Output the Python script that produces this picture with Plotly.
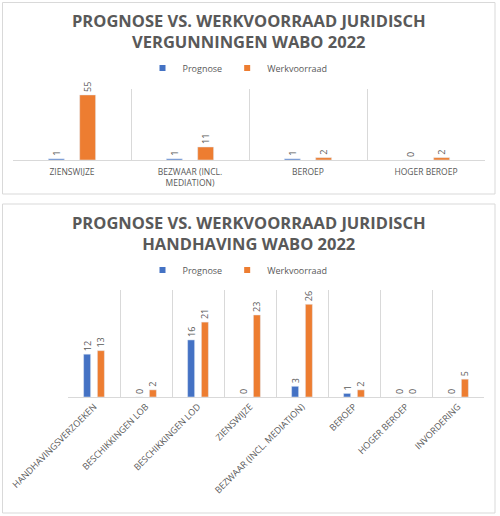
import plotly.graph_objects as go

W, H = 500, 516

# Chart 1 data
cats1 = ["ZIENSWIJZE", "BEZWAAR (INCL.<br>MEDIATION)", "BEROEP", "HOGER BEROEP"]
prog1 = [1, 1, 1, 0]
werk1 = [55, 11, 2, 2]

# Chart 2 data
cats2 = ["HANDHAVINGSVERZOEKEN", "BESCHIKKINGEN LOB", "BESCHIKKINGEN LOD", "ZIENSWIJZE",
         "BEZWAAR (INCL. MEDIATION)", "BEROEP", "HOGER BEROEP", "INVORDERING"]
prog2 = [12, 0, 16, 0, 3, 1, 0, 0]
werk2 = [13, 2, 21, 23, 26, 2, 0, 5]

series_names = ["Prognose", "Werkvoorraad"]

title1 = "PROGNOSE VS. WERKVOORRAAD JURIDISCH<br>VERGUNNINGEN WABO 2022"
title2 = "PROGNOSE VS. WERKVOORRAAD JURIDISCH<br>HANDHAVING WABO 2022"

BLUE = "#4472C4"
ORANGE = "#ED7D31"
GREY = "#595959"
GRID = "#D9D9D9"
FONT = "Open Sans"

def px_x(v):
    return v / W

def px_y(v):
    return 1 - v / H

fig = go.Figure()

def add_bars(x, p, w, xa, ya, leg):
    for name, vals, col in ((series_names[0], p, BLUE), (series_names[1], w, ORANGE)):
        fig.add_trace(go.Bar(
            x=x, y=vals, name=name, marker_color=col, xaxis=xa, yaxis=ya,
            showlegend=False,
            text=vals, texttemplate="%{y}", textposition="outside", textangle=-90,
            constraintext="none", cliponaxis=False,
            textfont=dict(size=9, color=GREY, family=FONT),
        ))
        # legend entry with a small square swatch
        fig.add_trace(go.Scatter(
            x=[None], y=[None], name=name, mode="markers", xaxis=xa, yaxis=ya,
            marker=dict(symbol="square", size=6, color=col), legend=leg, showlegend=True,
        ))

add_bars(cats1, prog1, werk1, "x", "y", "legend")
add_bars(cats2, prog2, werk2, "x2", "y2", "legend2")

axis_common = dict(showgrid=True, gridcolor=GRID, gridwidth=1, tickson="boundaries",
                   ticks="", showline=True, linecolor=GRID, linewidth=1, automargin=False,
                   fixedrange=True)

legend_common = dict(orientation="h", x=0.475, xanchor="center", yanchor="middle",
                     font=dict(size=9, color=GREY, family=FONT), bgcolor="rgba(0,0,0,0)",
                     itemwidth=30, tracegroupgap=0)

fig.update_layout(
    width=W, height=H, autosize=False,
    margin=dict(l=0, r=0, t=0, b=0, autoexpand=False),
    paper_bgcolor="white", plot_bgcolor="white",
    bargap=0.47, bargroupgap=0.49,
    font=dict(family=FONT, color=GREY),
    xaxis=dict(domain=[px_x(13), px_x(485)], anchor="y", tickangle=0, ticklabelstandoff=4,
               tickfont=dict(size=8.5, color=GREY, family=FONT), **axis_common),
    yaxis=dict(domain=[px_y(160), px_y(89)], anchor="x", range=[0, 60], visible=False,
               showgrid=False, zeroline=False, automargin=False),
    xaxis2=dict(domain=[px_x(68), px_x(484)], anchor="y2", tickangle=-45,
                tickfont=dict(size=9, color=GREY, family=FONT), **axis_common),
    yaxis2=dict(domain=[px_y(397), px_y(290)], anchor="x2", range=[0, 30], visible=False,
                showgrid=False, zeroline=False, automargin=False),
    legend=dict(y=px_y(68), **legend_common),
    legend2=dict(y=px_y(270), **legend_common),
    annotations=[
        dict(text="<b>" + title1 + "</b>", x=0.497, y=px_y(31), xref="paper", yref="paper",
             xanchor="center", yanchor="middle", showarrow=False,
             font=dict(size=16.5, color=GREY, family=FONT)),
        dict(text="<b>" + title2 + "</b>", x=0.497, y=px_y(233), xref="paper", yref="paper",
             xanchor="center", yanchor="middle", showarrow=False,
             font=dict(size=16.5, color=GREY, family=FONT)),
    ],
    shapes=[
        dict(type="rect", xref="paper", yref="paper", x0=px_x(2.5), x1=px_x(495),
             y0=px_y(194), y1=px_y(2.5), line=dict(color=GRID, width=1)),
        dict(type="rect", xref="paper", yref="paper", x0=px_x(2.5), x1=px_x(495),
             y0=px_y(513), y1=px_y(204), line=dict(color=GRID, width=1)),
    ],
)

fig.write_html("out.html", config={"displayModeBar": False},
               post_script="document.body.style.margin='0';document.body.style.overflow='hidden';")
